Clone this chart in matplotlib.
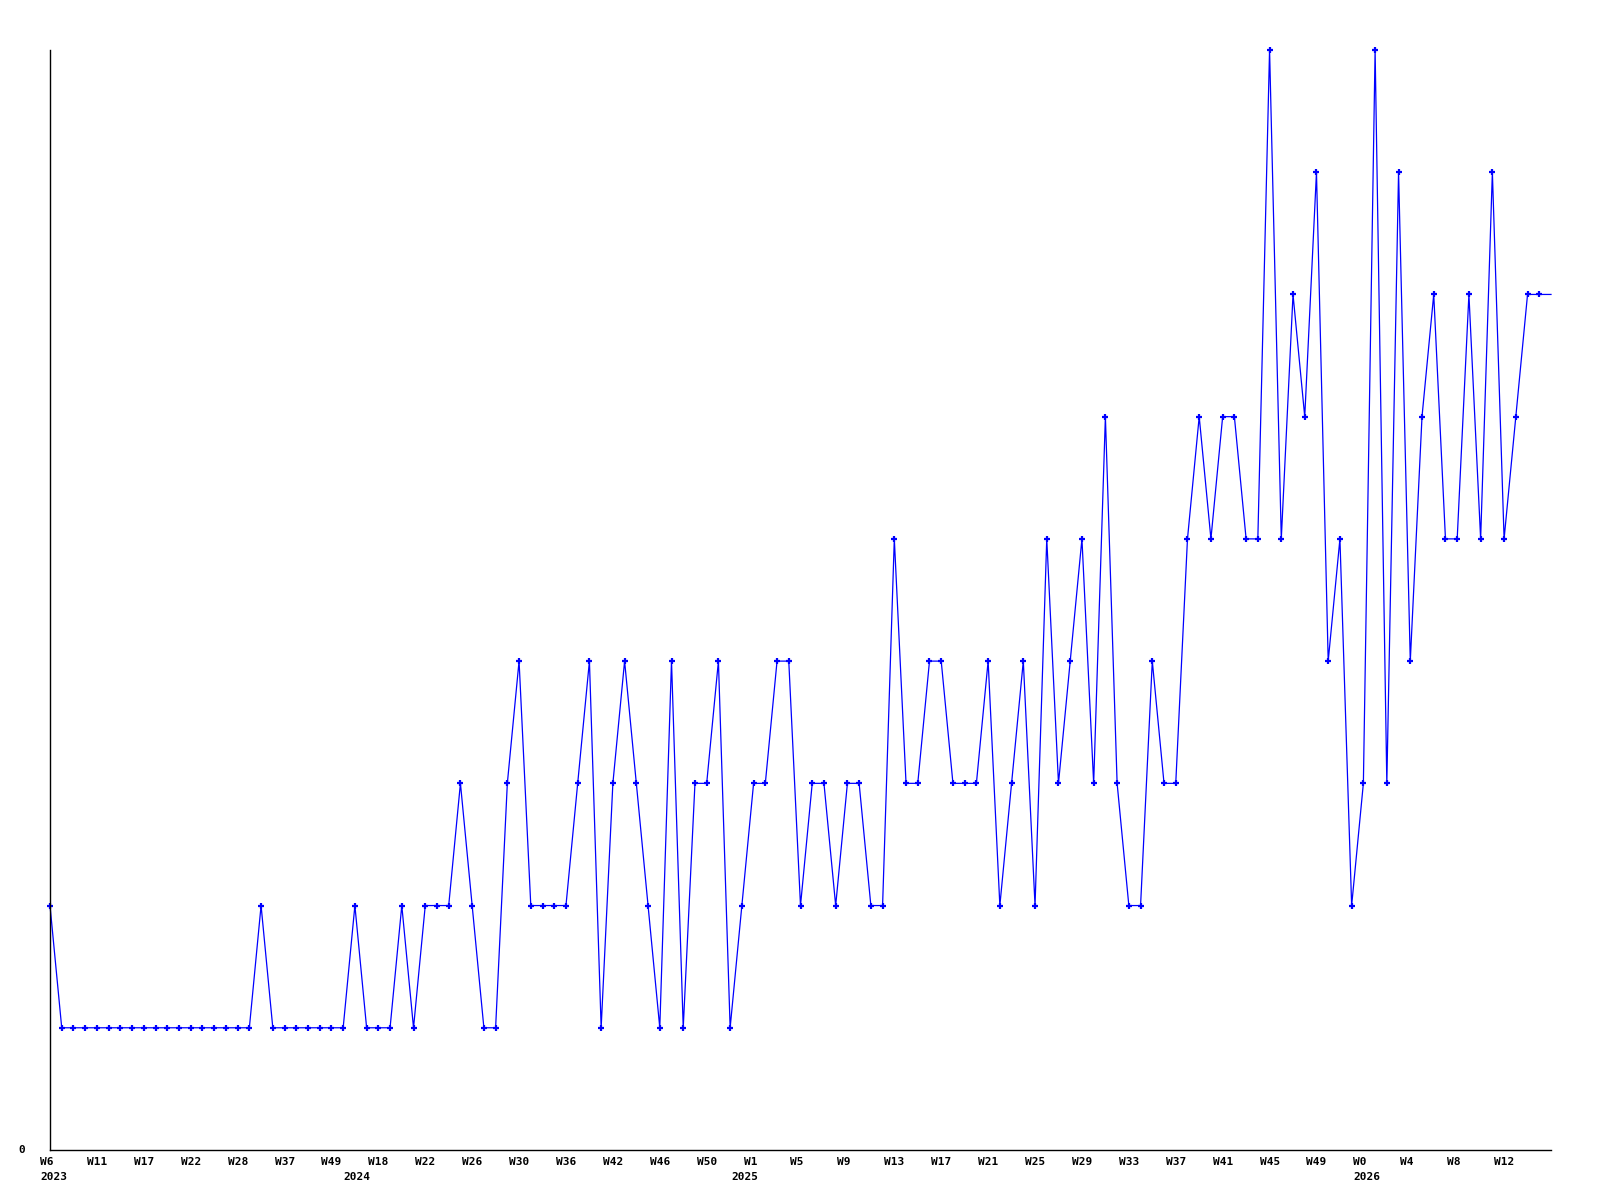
import matplotlib
matplotlib.use("Agg")
import matplotlib.pyplot as plt

# weekly counts, one point per week (last one has no marker in the original)
values = [2, 1, 1, 1, 1, 1, 1, 1, 1, 1, 1, 1, 1, 1, 1, 1, 1, 1, 2, 1,
          1, 1, 1, 1, 1, 1, 2, 1, 1, 1, 2, 1, 2, 2, 2, 3, 2, 1, 1, 3,
          4, 2, 2, 2, 2, 3, 4, 1, 3, 4, 3, 2, 1, 4, 1, 3, 3, 4, 1, 2,
          3, 3, 4, 4, 2, 3, 3, 2, 3, 3, 2, 2, 5, 3, 3, 4, 4, 3, 3, 3,
          4, 2, 3, 4, 2, 5, 3, 4, 5, 3, 6, 3, 2, 2, 4, 3, 3, 5, 6, 5,
          6, 6, 5, 5, 9, 5, 7, 6, 8, 4, 5, 2, 3, 9, 3, 8, 4, 6, 7, 5,
          5, 7, 5, 8, 5, 6, 7, 7, 7]

week_labels = ["W6", "W11", "W17", "W22", "W28", "W37", "W49", "W18", "W22",
               "W26", "W30", "W36", "W42", "W46", "W50", "W1", "W5", "W9",
               "W13", "W17", "W21", "W25", "W29", "W33", "W37", "W41", "W45",
               "W49", "W0", "W4", "W8", "W12"]
week_pos = list(range(0, 128, 4))

year_labels = ["2023", "2024", "2025", "2026"]
year_pos = [0, 25.9, 59.0, 112]

x = list(range(len(values)))

fig = plt.figure(figsize=(16, 12), dpi=100)
ax = fig.add_axes([50 / 1600, 50 / 1200, 1501 / 1600, 1100 / 1200])

ax.plot(x, values, color="#0000ff", lw=0.9, marker="+", markersize=4.5,
        markeredgewidth=1.6, markevery=slice(0, len(values) - 1),
        clip_on=False)

ax.set_xlim(0, len(values) - 1)
ax.set_ylim(0, 9)

for s in ["top", "right"]:
    ax.spines[s].set_visible(False)
for s in ["left", "bottom"]:
    ax.spines[s].set_color("black")
    ax.spines[s].set_linewidth(1.0)

ax.set_xticks([])
ax.set_yticks([])

font = dict(family="DejaVu Sans Mono", fontweight="bold", fontsize=8,
            color="black")
xtr = ax.get_xaxis_transform()

for pos, lab in zip(week_pos, week_labels):
    ax.annotate(lab, xy=(pos, 0), xycoords=xtr, xytext=(-10, -12),
                textcoords="offset pixels", ha="left", va="center", **font)

for pos, lab in zip(year_pos, year_labels):
    ax.annotate(lab, xy=(pos, 0), xycoords=xtr, xytext=(-10, -27),
                textcoords="offset pixels", ha="left", va="center", **font)

ax.annotate("0", xy=(0, 0), xycoords="axes fraction", xytext=(-25, 0),
            textcoords="offset pixels", ha="right", va="center", **font)

plt.savefig("out.png", dpi=100)
